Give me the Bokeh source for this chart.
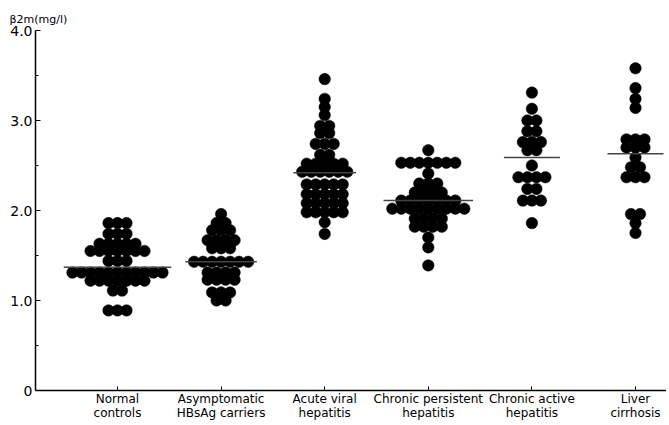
from bokeh.plotting import figure
from bokeh.models import FixedTicker, ColumnDataSource
from bokeh.embed import file_html
from bokeh.resources import INLINE

# ---------------- data ----------------
categories = ["Normal\ncontrols", "Asymptomatic\nHBsAg carriers", "Acute viral\nhepatitis",
              "Chronic persistent\nhepatitis", "Chronic active\nhepatitis", "Liver\ncirrhosis"]

normal_controls = [1.86, 1.86, 1.86,
                   1.74, 1.74, 1.74,
                   1.63, 1.63, 1.63, 1.63, 1.63,
                   1.55, 1.55, 1.55, 1.55, 1.55, 1.55, 1.55,
                   1.44, 1.44, 1.44,
                   1.31, 1.31, 1.31, 1.31, 1.31, 1.31, 1.31, 1.31, 1.31, 1.31, 1.31,
                   1.22, 1.22, 1.22, 1.22, 1.22, 1.22, 1.22,
                   1.11, 1.11,
                   0.89, 0.89, 0.89]

hbsag_carriers = [1.96,
                  1.86, 1.86,
                  1.78, 1.78, 1.78,
                  1.67, 1.67, 1.67, 1.67,
                  1.58, 1.58, 1.58,
                  1.43, 1.43, 1.43, 1.43, 1.43, 1.43, 1.43,
                  1.31, 1.31, 1.31, 1.31,
                  1.23, 1.23, 1.23, 1.23,
                  1.09, 1.09, 1.09,
                  1.00, 1.00]

acute_viral = [3.46, 3.24, 3.15, 3.06,
               2.94, 2.94,
               2.86, 2.86,
               2.74, 2.74, 2.74,
               2.62, 2.62,
               2.52, 2.52, 2.52, 2.52, 2.52,
               2.43, 2.43, 2.43, 2.43, 2.43, 2.43,
               2.29, 2.29, 2.29, 2.29, 2.29,
               2.18, 2.18, 2.18, 2.18, 2.18,
               2.08, 2.08, 2.08, 2.08, 2.08,
               1.98, 1.98, 1.98, 1.98, 1.98,
               1.87, 1.74]

chronic_persistent = [2.67,
                      2.53, 2.53, 2.53, 2.53, 2.53, 2.53, 2.53,
                      2.41,
                      2.30, 2.30, 2.30,
                      2.20, 2.20, 2.20, 2.20,
                      2.11, 2.11, 2.11, 2.11, 2.11, 2.11, 2.11,
                      2.02, 2.02, 2.02, 2.02, 2.02, 2.02, 2.02, 2.02, 2.02,
                      1.91, 1.91, 1.91, 1.91,
                      1.82, 1.82, 1.82, 1.82,
                      1.70, 1.59, 1.39]

chronic_active = [3.31, 3.13,
                  3.00, 3.00,
                  2.88, 2.88,
                  2.76, 2.76, 2.76,
                  2.67, 2.67,
                  2.50,
                  2.37, 2.37, 2.37, 2.37,
                  2.24, 2.24,
                  2.11, 2.11, 2.11,
                  1.86]

liver_cirrhosis = [3.58, 3.36, 3.24, 3.14,
                   2.79, 2.79, 2.79,
                   2.70, 2.70, 2.70,
                   2.59,
                   2.48, 2.48,
                   2.37, 2.37, 2.37,
                   1.96, 1.96,
                   1.86, 1.75]

groups = [normal_controls, hbsag_carriers, acute_viral,
          chronic_persistent, chronic_active, liver_cirrhosis]

group_means = [1.37, 1.43, 2.42, 2.11, 2.59, 2.63]

y_ticks = [0, 1, 2, 3, 4]
y_tick_labels = ["0", "1.0", "2.0", "3.0", "4.0"]
y_minor_ticks = [0.5, 1.5, 2.5, 3.5]
y_title = "\u03b22m(mg/l)"

# ---------------- layout ----------------
FONT = "DejaVu Sans"
W, H = 666, 423
LEFT, TOP, BOTTOM, RIGHT = 35, 30, 33, 0
frame_w = W - LEFT - RIGHT
PX_PER_X = 103.6
x_start = -(117 - LEFT) / PX_PER_X
x_end = x_start + frame_w / PX_PER_X

DOT = 11.5        # px diameter
STEP = 9.0        # px between dot centres in a row
step_x = STEP / PX_PER_X

xs, ys = [], []
seg_x0, seg_x1 = [], []
for gi, vals in enumerate(groups):
    counts = {}
    order = []
    for v in vals:
        if v not in counts:
            counts[v] = 0
            order.append(v)
        counts[v] += 1
    widest = 0
    for v in order:
        n = counts[v]
        widest = max(widest, n)
        for k in range(n):
            xs.append(gi + (k - (n - 1) / 2) * step_x)
            ys.append(v)
    half_px = max((widest - 1) / 2 * STEP + DOT / 2 + 3, 28)
    seg_x0.append(gi - half_px / PX_PER_X)
    seg_x1.append(gi + half_px / PX_PER_X)

p = figure(width=W, height=H, output_backend="svg", toolbar_location=None,
           x_range=(x_start, x_end), y_range=(0, 4.0),
           min_border_left=LEFT, min_border_top=TOP, min_border_bottom=BOTTOM,
           min_border_right=RIGHT, title=y_title)
p.outline_line_color = None
p.xgrid.visible = False
p.ygrid.visible = False
p.background_fill_color = "white"
p.border_fill_color = "white"

p.title.align = "left"
p.title.offset = -26
p.title.standoff = 10
p.title.text_font = FONT
p.title.text_font_size = "11px"
p.title.text_font_style = "normal"
p.title.text_color = "black"

src = ColumnDataSource(dict(x=xs, y=ys))
p.scatter("x", "y", source=src, size=DOT, marker="circle",
          fill_color="black", line_color="black", line_width=0.5)

p.segment(x0=seg_x0, y0=group_means, x1=seg_x1, y1=group_means,
          line_color="#444444", line_width=1.5)

# y axis
p.yaxis.ticker = FixedTicker(ticks=y_ticks, minor_ticks=y_minor_ticks)
p.yaxis.major_label_overrides = {t: l for t, l in zip(y_ticks, y_tick_labels)}
p.yaxis.major_tick_in = 5
p.yaxis.major_tick_out = 0
p.yaxis.minor_tick_in = 3
p.yaxis.minor_tick_out = 0
p.yaxis.axis_line_color = "black"
p.yaxis.axis_line_width = 1.5
p.yaxis.major_label_text_font = FONT
p.yaxis.major_label_text_font_size = "14px"
p.yaxis.major_label_text_color = "black"
p.yaxis.major_label_standoff = 3

# x axis
p.xaxis.ticker = FixedTicker(ticks=list(range(len(categories))), minor_ticks=[])
p.xaxis.major_label_overrides = {i: c for i, c in enumerate(categories)}
p.xaxis.major_tick_in = 4
p.xaxis.major_tick_out = 0
p.xaxis.axis_line_color = "black"
p.xaxis.axis_line_width = 1.5
p.xaxis.major_label_text_font = FONT
p.xaxis.major_label_text_font_size = "12px"
p.xaxis.major_label_text_line_height = 1.0
p.xaxis.major_label_text_color = "black"
p.xaxis.major_label_standoff = 1

open("out.html", "w").write(file_html(p, INLINE))
